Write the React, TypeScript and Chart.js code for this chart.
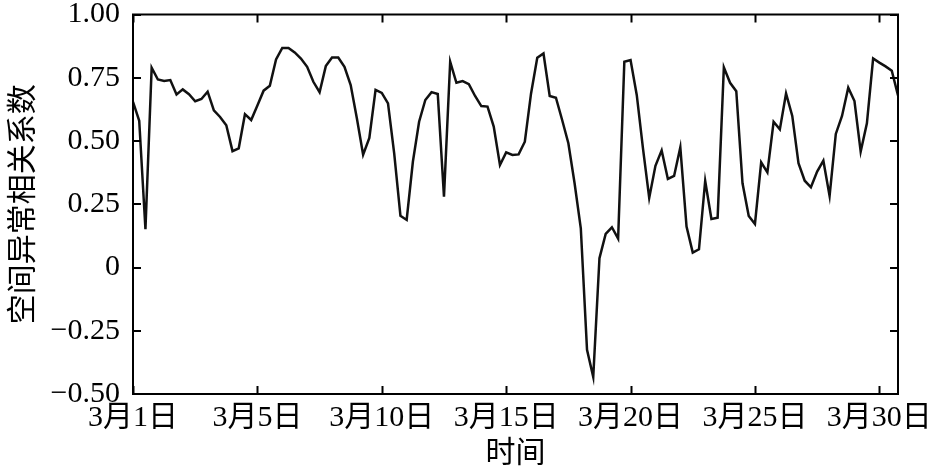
import React, { useEffect, useRef } from "react";
import { Chart, registerables } from "chart.js";

Chart.register(...registerables);

// 6-hourly correlation values, index 0 = start of 3月1日
const correlation: number[] = [
  0.655, 0.58, 0.151, 0.79, 0.743, 0.737, 0.741, 0.684, 0.704, 0.685,
  0.657, 0.666, 0.695, 0.621, 0.595, 0.562, 0.46, 0.471, 0.606, 0.583,
  0.64, 0.699, 0.718, 0.822, 0.868, 0.868, 0.85, 0.826, 0.793, 0.734,
  0.693, 0.796, 0.83, 0.83, 0.793, 0.721, 0.589, 0.446, 0.512, 0.702,
  0.69, 0.649, 0.45, 0.204, 0.188, 0.418, 0.576, 0.662, 0.693, 0.686,
  0.28, 0.813, 0.73, 0.737, 0.725, 0.678, 0.638, 0.636, 0.557, 0.405,
  0.455, 0.445, 0.447, 0.497, 0.688, 0.829, 0.846, 0.678, 0.671, 0.583,
  0.491, 0.333, 0.155, -0.325, -0.433, 0.037, 0.133, 0.159, 0.114, 0.813,
  0.82, 0.681, 0.47, 0.275, 0.402, 0.463, 0.35, 0.362, 0.475, 0.162,
  0.059, 0.072, 0.342, 0.192, 0.197, 0.791, 0.73, 0.697, 0.333, 0.204,
  0.172, 0.416, 0.376, 0.576, 0.546, 0.688, 0.599, 0.412, 0.343, 0.317,
  0.379, 0.422, 0.283, 0.528, 0.599, 0.711, 0.658, 0.458, 0.57, 0.826,
  0.81, 0.795, 0.778, 0.68,
];

const xTickValues: number[] = [0, 20, 40, 60, 80, 100, 120];
const xTickLabels: string[] = ["3月1日", "3月5日", "3月10日", "3月15日", "3月20日", "3月25日", "3月30日"];
const yTickValues: number[] = [-0.5, -0.25, 0, 0.25, 0.5, 0.75, 1.0];
const yTickLabels: string[] = ["\u22120.50", "\u22120.25", "0", "0.25", "0.50", "0.75", "1.00"];

const X_MAX = 123;
const FONT_FAMILY = "'Liberation Serif', 'Noto Sans CJK SC', serif";

const framePlugin = {
  id: "frameTicks",
  afterDraw(chart: any) {
    const { ctx, chartArea, scales } = chart;
    const { left, right, top, bottom } = chartArea;
    const len = 8;
    ctx.save();
    ctx.strokeStyle = "#000";
    ctx.lineWidth = 2;
    ctx.beginPath();
    for (const v of xTickValues) {
      const px = Math.round(scales.x.getPixelForValue(v)) + 0.5;
      ctx.moveTo(px, bottom);
      ctx.lineTo(px, bottom - len);
      ctx.moveTo(px, top);
      ctx.lineTo(px, top + len);
    }
    for (const v of yTickValues) {
      const py = Math.round(scales.y.getPixelForValue(v));
      ctx.moveTo(left, py);
      ctx.lineTo(left + len, py);
      ctx.moveTo(right, py);
      ctx.lineTo(right - len, py);
    }
    ctx.stroke();
    ctx.lineWidth = 2;
    ctx.strokeRect(left, top, right - left, bottom - top);
    ctx.restore();
  },
};

export default function App() {
  const canvasRef = useRef<HTMLCanvasElement | null>(null);

  useEffect(() => {
    document.body.style.margin = "0";
    const canvas = canvasRef.current;
    if (!canvas) return;
    const points = correlation.map((v, i) => ({ x: i, y: v }));
    const chart = new Chart(canvas, {
      type: "line",
      data: {
        datasets: [
          {
            data: points,
            borderColor: "#111",
            borderWidth: 2.5,
            pointRadius: 0,
            tension: 0,
            fill: false,
          },
        ],
      },
      options: {
        responsive: false,
        animation: false,
        layout: { padding: { left: 0, top: 0, right: 47, bottom: 0 } },
        plugins: {
          legend: { display: false },
          tooltip: { enabled: false },
        },
        scales: {
          x: {
            type: "linear",
            min: 0,
            max: X_MAX,
            grid: { display: false, drawTicks: false },
            border: { display: false },
            afterBuildTicks: (s: any) => {
              s.ticks = xTickValues.map((v) => ({ value: v }));
            },
            afterFit: (s: any) => {
              s.height = 78;
            },
            ticks: {
              autoSkip: false,
              maxRotation: 0,
              padding: 6,
              color: "#000",
              font: { family: FONT_FAMILY, size: 30 },
              callback: (v: any) => {
                const idx = xTickValues.indexOf(Number(v));
                return idx >= 0 ? xTickLabels[idx] : "";
              },
            },
            title: {
              display: true,
              text: "时间",
              color: "#000",
              font: { family: FONT_FAMILY, size: 30 },
              padding: { top: 0, bottom: 0 },
            },
          },
          y: {
            type: "linear",
            min: -0.5,
            max: 1.0,
            grid: { display: false, drawTicks: false },
            border: { display: false },
            afterBuildTicks: (s: any) => {
              s.ticks = yTickValues.map((v) => ({ value: v }));
            },
            afterFit: (s: any) => {
              s.width = 133;
              s.paddingTop = 14.5;
              s.paddingBottom = 14.5;
            },
            ticks: {
              padding: 13,
              color: "#000",
              font: { family: FONT_FAMILY, size: 30 },
              callback: (v: any) => {
                const idx = yTickValues.findIndex((t) => Math.abs(t - Number(v)) < 1e-9);
                return idx >= 0 ? yTickLabels[idx] : "";
              },
            },
            title: {
              display: true,
              text: "空间异常相关系数",
              color: "#000",
              font: { family: FONT_FAMILY, size: 30 },
              padding: { top: 6, bottom: 0 },
            },
          },
        },
      },
      plugins: [framePlugin],
    });
    return () => chart.destroy();
  }, []);

  return (
    <div style={{ width: 945, height: 472 }}>
      <canvas ref={canvasRef} width={945} height={472} />
    </div>
  );
}
